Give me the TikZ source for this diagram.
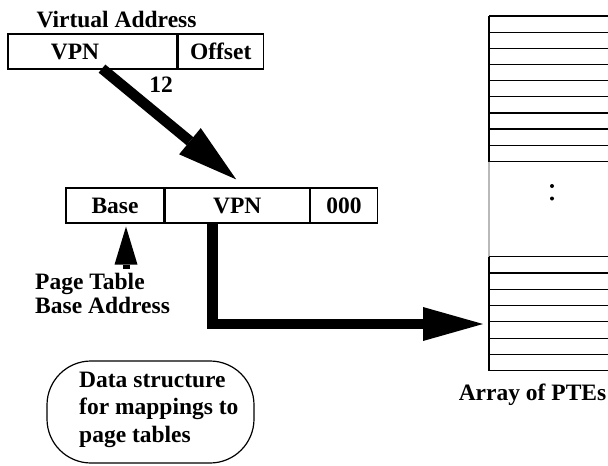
\documentclass[tikz,border=0pt]{standalone}
\usepackage{fontspec}
\setmainfont{Liberation Serif}
\usetikzlibrary{arrows.meta,positioning,calc}
\tikzset{field/.style={draw, line width=1.2pt, minimum height=35pt, inner sep=0pt},
  bigarrow/.style={line width=10.5pt, -{Triangle[length=60pt,width=34pt,line width=0pt]}},
  smallarrow/.style={line width=7pt, -{Triangle[length=38pt,width=23pt,line width=0pt]}},
  ptrow/.style={line width=1.2pt},
  roundbox/.style={draw, line width=1.2pt, rounded corners=44pt, minimum width=207pt, minimum height=102pt}}

\begin{document}
\begin{tikzpicture}[x=1pt,y=-1pt,font=\bfseries\fontsize{23.5}{24}\selectfont]
  \useasboundingbox (0,0) rectangle (608,466);
  \clip (0,0) rectangle (608,466);

  % virtual address
  \node[anchor=base] (valbl) at (116.5,27) {Virtual Address};
  \node[field, minimum width=169pt, label={[xshift=-17.5pt]center:VPN}] (vpn) at (92.5,51.5) {};
  \node[field, minimum width=85pt, right=0pt of vpn] (off) {Offset};
  \node[anchor=base] (shift) at (161,92) {12};

  % PTE address
  \node[field, minimum width=98pt] (base) at (115,205.5) {Base};
  \node[field, minimum width=144pt, right=0pt of base] (vpntwo) {VPN};
  \node[field, minimum width=67pt, right=0pt of vpntwo] (zeros) {000};
  \node[anchor=north west, align=left, inner sep=0pt] (ptbase) at (35,272.5) {Page Table\\Base Address};

  % data structure
  \node[roundbox] (dstruct) at (150.5,412) {};
  \node[anchor=north west, align=left, inner sep=0pt,
        font=\bfseries\fontsize{23.5}{27.5}\selectfont] (dstext) at (79,371.5) {Data structure\\for mappings to\\page tables};

  % array of PTEs
  \foreach \i in {0,...,9}
    \draw[ptrow] (489,{16+16.15*\i}) -- (620,{16+16.15*\i});
  \draw[ptrow] (489,16) -- (489,161.5);
  \draw[ptrow, gray!55] (489,161.5) -- (489,256.7);
  \foreach \i in {0,...,7}
    \draw[ptrow] (489,{256.7+16.29*\i}) -- (620,{256.7+16.29*\i});
  \draw[ptrow] (489,256.7) -- (489,370.7);
  \fill (552,186) circle (2pt) (552,198.5) circle (2pt);
  \node[anchor=base] (ptes) at (532.5,400) {Array of PTEs};
  \coordinate (ptein) at (483,324);

  % arrows
  \draw[bigarrow] ([xshift=9.5pt,yshift=1pt]vpn.south) -- ([xshift=-1pt,yshift=8pt]vpntwo.north);
  \draw[bigarrow] ([xshift=-24.5pt]vpntwo.south) |- (ptein);
  \draw[smallarrow] ($(base.south |- ptbase.north)+(11,-4)$) -- ([xshift=11pt,yshift=-3pt]base.south);
\end{tikzpicture}
\end{document}
